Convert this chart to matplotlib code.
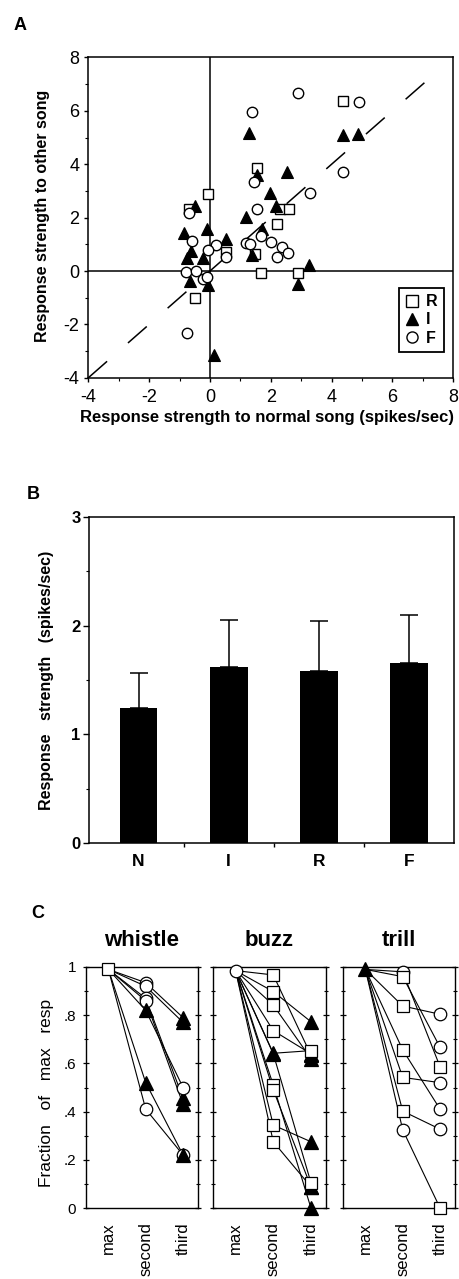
import matplotlib
matplotlib.use('Agg')
import matplotlib.pyplot as plt
from matplotlib.ticker import MultipleLocator, FixedLocator
from matplotlib.lines import Line2D

plt.rcParams['font.family'] = ['Liberation Sans', 'DejaVu Sans']
plt.rcParams['lines.scale_dashes'] = False

# ---------------- Data ----------------
# Panel A: response to normal song (x) vs other song (y)
R_x = [4.38, 1.56, -0.05, -0.68, 2.30, 2.59, 2.19, 0.53, 1.48, 1.68, 2.88, -0.49]
R_y = [6.38, 3.85, 2.88, 2.31, 2.31, 2.31, 1.76, 0.72, 0.62, -0.09, -0.09, -1.02]
I_x = [1.29, 4.38, 4.88, 1.56, 2.54, 1.97, 2.17, 1.18, 1.70, -0.49, -0.84, -0.11,
       0.53, -0.62, -0.75, -0.22, 1.37, 3.27, -0.66, -0.08, 2.88, 0.14]
I_y = [5.16, 5.09, 5.13, 3.60, 3.72, 2.93, 2.43, 2.03, 1.56, 2.43, 1.41, 1.56,
       1.20, 0.76, 0.47, 0.50, 0.60, 0.22, -0.36, -0.52, -0.49, -3.15]
F_x = [2.88, 4.91, 1.37, 4.38, 1.45, 3.29, 1.56, -0.68, -0.60, 0.20, -0.05, 0.53,
       1.18, 1.32, 1.68, 2.00, 2.36, 2.58, 2.19, -0.80, -0.47, -0.22, -0.09, -0.75]
F_y = [6.65, 6.34, 5.94, 3.70, 3.35, 2.91, 2.32, 2.18, 1.14, 0.97, 0.79, 0.51,
       1.06, 1.01, 1.32, 1.10, 0.91, 0.66, 0.51, -0.02, 0.01, -0.31, -0.24, -2.33]
a_ticks = [-4, -2, 0, 2, 4, 6, 8]
a_ticklabels = ['-4', '-2', '0', '2', '4', '6', '8']

# Panel B
b_cats = ['N', 'I', 'R', 'F']
b_means = [1.24, 1.62, 1.58, 1.66]
b_err = [0.32, 0.43, 0.46, 0.44]

# Panel C (element codes: w = whistle, b = buzz, t = trill)
c_ranks = ['max', 'second', 'third']
c_yticklabels = ['0', '.2', '.4', '.6', '.8', '1']

whistle_max = 0.99
whistle_second = [0.935, 0.92, 0.87, 0.86, 0.82, 0.52, 0.41]
whistle_second_el = ['b', 'b', 'b', 'b', 't', 't', 'b']
whistle_third = [0.79, 0.77, 0.455, 0.43, 0.50, 0.22, 0.22]
whistle_third_el = ['t', 't', 't', 't', 'b', 'b', 't']

buzz_max = 0.985
buzz_second = [0.967, 0.898, 0.842, 0.736, 0.642, 0.51, 0.49, 0.344, 0.275, 0.64]
buzz_second_el = ['w', 'w', 'w', 'w', 't', 'w', 'w', 'w', 'w', 't']
buzz_third = [0.635, 0.773, 0.62, 0.64, 0.653, 0.0, 0.088, 0.275, 0.088, 0.105]
buzz_third_el = ['t', 't', 't', 't', 'w', 't', 't', 't', 't', 'w']

trill_max = 0.99
trill_second = [0.98, 0.96, 0.838, 0.656, 0.542, 0.402, 0.324]
trill_second_el = ['b', 'w', 'w', 'w', 'w', 'w', 'b']
trill_third = [0.586, 0.667, 0.804, 0.41, 0.52, 0.327, 0.0]
trill_third_el = ['w', 'b', 'b', 'b', 'b', 'b', 'w']

# ---------------- Figure ----------------
W, H = 460, 1279
fig = plt.figure(figsize=(W / 100, H / 100), dpi=100)


def rect(l, t, r, b):
    return [l / W, 1 - b / H, (r - l) / W, (b - t) / H]


def ftext(x, y, s, **kw):
    fig.text(x / W, 1 - y / H, s, **kw)


# ---------------- Panel A ----------------
axA = fig.add_axes(rect(88.3, 57.4, 453.3, 377.8))
axA.set_xlim(-4, 8)
axA.set_ylim(-4, 8)
axA.axhline(0, color='k', lw=1.1, zorder=1)
axA.axvline(0, color='k', lw=1.1, zorder=1)
axA.plot([-4, 7.25], [-4, 7.25], color='k', lw=1.1, dashes=(18, 20), zorder=1)
axA.plot(R_x, R_y, ls='none', marker='s', ms=7, mfc='white', mec='k', mew=1, zorder=3)
axA.plot(I_x, I_y, ls='none', marker='^', ms=8, mfc='k', mec='k', mew=0.8, zorder=4)
axA.plot(F_x, F_y, ls='none', marker='o', ms=7.5, mfc='white', mec='k', mew=1, zorder=5)
axA.set_xticks(a_ticks, a_ticklabels, fontsize=13)
axA.set_yticks(a_ticks, a_ticklabels, fontsize=13)
axA.xaxis.set_minor_locator(MultipleLocator(1))
axA.yaxis.set_minor_locator(MultipleLocator(1))
axA.tick_params(which='major', direction='out', length=3, width=1)
axA.tick_params(which='minor', direction='out', length=2, width=0.8)
axA.tick_params(axis='x', pad=5)
axA.tick_params(axis='y', pad=3.5)
for s in axA.spines.values():
    s.set_linewidth(1.1)

handles = [Line2D([], [], ls='none', marker='s', ms=8, mfc='white', mec='k', mew=1),
           Line2D([], [], ls='none', marker='^', ms=8, mfc='k', mec='k'),
           Line2D([], [], ls='none', marker='o', ms=8, mfc='white', mec='k', mew=1)]
leg = axA.legend(handles, ['R', 'I', 'F'], loc='lower right',
                 bbox_to_anchor=(0.9745, 0.0805), borderaxespad=0,
                 prop={'weight': 'bold', 'size': 11.5}, fancybox=False,
                 framealpha=1, edgecolor='k', handlelength=0.8,
                 handletextpad=0.5, labelspacing=0.2, borderpad=0.4)
leg.get_frame().set_linewidth(1.3)

ftext(20, 25, 'A', fontsize=13, fontweight='bold', ha='center', va='center')
ftext(267.5, 418, 'Response strength to normal song (spikes/sec)',
      fontsize=12, fontweight='bold', ha='center', va='center')
ftext(43, 216, 'Response strength to other song', fontsize=11.5,
      fontweight='bold', ha='center', va='center', rotation=90)

# ---------------- Panel B ----------------
axB = fig.add_axes(rect(89, 517, 454, 843))
xs = list(range(len(b_cats)))
axB.bar(xs, b_means, width=0.42, color='k', zorder=2)
axB.errorbar(xs, b_means, yerr=[[0] * len(b_err), b_err], fmt='none',
             ecolor='k', elinewidth=1.1, capsize=6.2, capthick=1.1, zorder=3)
axB.set_xlim(-0.55, 3.5)
axB.set_ylim(0, 3)
axB.set_yticks([0, 1, 2, 3], ['0', '1', '2', '3'], fontsize=12, fontweight='bold')
axB.yaxis.set_minor_locator(MultipleLocator(0.5))
axB.set_xticks(xs, b_cats, fontsize=12.5, fontweight='bold')
axB.xaxis.set_minor_locator(FixedLocator([0.5, 1.5, 2.5]))
axB.tick_params(axis='x', which='major', length=0, pad=8)
axB.tick_params(axis='x', which='minor', direction='out', length=3, width=1)
axB.tick_params(axis='y', which='major', direction='out', length=4, width=1, pad=2)
axB.tick_params(axis='y', which='minor', direction='out', length=2.5, width=0.8)
for s in axB.spines.values():
    s.set_linewidth(1.1)

ftext(33, 494, 'B', fontsize=13, fontweight='bold', ha='center', va='center')
ftext(47, 680, 'Response   strength   (spikes/sec)', fontsize=11.5,
      fontweight='bold', ha='center', va='center', rotation=90)

# ---------------- Panel C ----------------
marker_of = {'w': 's', 'b': 'o', 't': '^'}
face_of = {'w': 'white', 'b': 'white', 't': 'k'}
size_of = {'w': 9, 'b': 9, 't': 10}

panels = [
    ('whistle', 'w', whistle_max, whistle_second, whistle_second_el, whistle_third, whistle_third_el, (86, 198)),
    ('buzz', 'b', buzz_max, buzz_second, buzz_second_el, buzz_third, buzz_third_el, (213, 326)),
    ('trill', 't', trill_max, trill_second, trill_second_el, trill_third, trill_third_el, (343, 455)),
]

for i, (title, mel, mx, sec, sec_el, thr, thr_el, (l, r)) in enumerate(panels):
    ax = fig.add_axes(rect(l, 967, r, 1208))
    ax.set_xlim(-0.6, 2.4)
    ax.set_ylim(0, 1)
    for s2, t3 in zip(sec, thr):
        ax.plot([0, 1, 2], [mx, s2, t3], color='k', lw=0.8, zorder=2)
    pts = [(1, v, e) for v, e in zip(sec, sec_el)] + [(2, v, e) for v, e in zip(thr, thr_el)]
    for x, v, e in pts:
        ax.plot([x], [v], ls='none', marker=marker_of[e], ms=size_of[e],
                mfc=face_of[e], mec='k', mew=0.9, zorder=3, clip_on=False)
    ax.plot([0], [mx], ls='none', marker=marker_of[mel], ms=size_of[mel],
            mfc=face_of[mel], mec='k', mew=0.9, zorder=4, clip_on=False)
    ax.set_xticks([0, 1, 2], c_ranks, rotation=90, fontsize=12)
    ax.set_yticks([0, 0.2, 0.4, 0.6, 0.8, 1.0])
    ax.yaxis.set_minor_locator(MultipleLocator(0.1))
    if i == 0:
        ax.set_yticklabels(c_yticklabels, fontsize=11)
    else:
        ax.set_yticklabels([])
    ax.tick_params(axis='x', length=0, pad=10)
    ax.tick_params(axis='y', which='major', direction='inout', length=4,
                   width=0.9, left=True, right=True, pad=5)
    ax.tick_params(axis='y', which='minor', direction='inout', length=2.5,
                   width=0.8, left=True, right=True)
    for s in ax.spines.values():
        s.set_linewidth(1)
    ax.text(0.5, 1.112, title, transform=ax.transAxes, fontsize=16,
            fontweight='bold', ha='center', va='center')

ftext(38, 913, 'C', fontsize=13, fontweight='bold', ha='center', va='center')
ftext(47, 1093, 'Fraction   of   max   resp', fontsize=12.5,
      ha='center', va='center', rotation=90)

fig.savefig('out.png', dpi=100)
